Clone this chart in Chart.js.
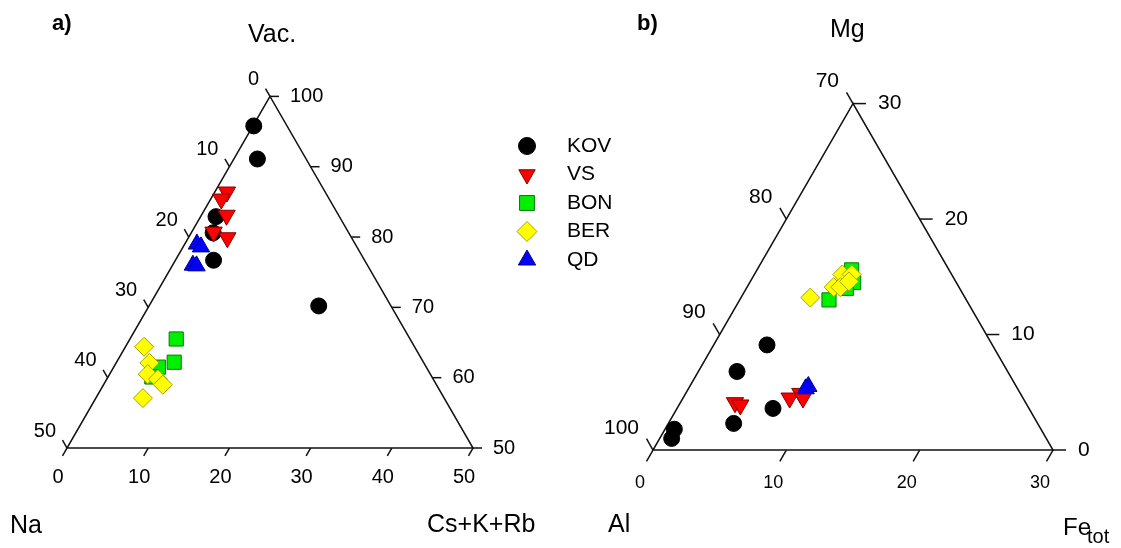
<!DOCTYPE html>
<html>
<head>
<meta charset="utf-8">
<script src="https://cdn.jsdelivr.net/npm/chart.js@4.4.1/dist/chart.umd.min.js"></script>
<style>
  html, body { margin: 0; padding: 0; background: #fff; }
  body { width: 1121px; height: 548px; position: relative; overflow: hidden; }
  canvas { position: absolute; top: 0; }
  #chartA { left: 0; }
  #chartB { left: 595px; }
</style>
</head>
<body>
<canvas id="chartA" width="630" height="548"></canvas>
<canvas id="chartB" width="526" height="548"></canvas>
<script>
// ===============================
// Data
// ===============================
const groups = ['KOV', 'VS', 'BON', 'BER', 'QD'];

// a) each point is [Vac., Cs+K+Rb] in %, Na = 100 - Vac. - (Cs+K+Rb)
const kovA = [[95.8, 0.1], [91.1, 2.9], [82.9, 1.9], [80.6, 2.7], [76.7, 4.7], [70.2, 20.9]];
const vsA  = [[86.4, 1.5], [85.4, 1.3], [83.1, 3.1], [80.7, 2.7], [79.9, 4.8]];
const bonA = [[65.5, 5.7], [62.2, 7.1], [61.5, 5.5], [60.1, 5.4]];
const berA = [[64.4, 2.3], [62.1, 4.1], [60.5, 4.7], [59.8, 6.3], [59.0, 7.3], [57.1, 5.8]];
const qdA  = [[79.0, 1.5], [78.6, 2.2], [76.0, 2.5], [75.9, 3.0]];

// b) each point is [Mg, Fe_tot] in %, Al = 100 - Mg - Fe_tot
const kovB = [[9.1, 4.0], [6.8, 2.9], [3.6, 7.2], [2.3, 4.9], [1.8, 0.7], [1.0, 0.9]];
const vsB  = [[4.1, 4.1], [3.9, 4.6], [4.5, 8.0], [4.9, 8.6], [4.5, 9.0]];
const bonB = [[13.0, 6.7], [15.6, 7.1], [14.5, 7.8], [14.0, 7.5]];
const berB = [[13.2, 5.2], [14.1, 6.5], [15.2, 6.6], [15.2, 7.3], [14.1, 7.0], [14.6, 7.4]];
const qdB  = [[5.5, 8.9], [5.3, 8.8]];

// axis tick labels
const naTicks  = [0, 10, 20, 30, 40, 50];
const vacTicks = [100, 90, 80, 70, 60, 50];
const alkTicks = [0, 10, 20, 30, 40, 50];
const alTicks  = [70, 80, 90, 100];
const mgTicks  = [30, 20, 10, 0];
const feTicks  = [0, 10, 20, 30];

// ===============================
// Styles
// ===============================
const FONT = "'Liberation Sans', Arial, sans-serif";
const S3 = Math.sqrt(3) / 2;

const styleOf = {
  KOV: { pointStyle: 'circle',   rotation: 0,   radius: 8,   legendR: 8.5, bg: '#000000', border: '#000000', order: 5 },
  VS:  { pointStyle: 'triangle', rotation: 180, radius: 10,  legendR: 9.5, bg: '#ff0000', border: '#880000', order: 4 },
  BON: { pointStyle: 'rect',     rotation: 0,   radius: 10,  legendR: 10.5, bg: '#00f000', border: '#007a00', order: 3 },
  BER: { pointStyle: 'rectRot',  rotation: 0,   radius: 9.5, legendR: 10,  bg: '#ffff00', border: '#a3a300', order: 2 },
  QD:  { pointStyle: 'triangle', rotation: 0,   radius: 10,  legendR: 10,  bg: '#0000ff', border: '#000088', order: 1 }
};

// panel layouts: origin = pixel of left corner inside its canvas, unit = px per %
const panelA = {
  id: 'chartA', series: [kovA, vsA, bonA, berA, qdA],
  topMin: 50, rightMin: 0, leftMin: 0, span: 50,
  origin: [67, 448], unit: 406 / 50, tickLen: 9,
  leftTicks: naTicks, rightTicks: vacTicks, bottomTicks: alkTicks,
  sideFont: 20, bottomFont: 20,
  leftOff: [11, 17], rightOff: 20, bottomOff: [9, 29],
  texts: [
    { s: 'a)', x: 52, y: 30, size: 22, bold: true },
    { s: 'Vac.', x: 248, y: 42, size: 25 },
    { s: 'Na', x: 10, y: 533, size: 25 },
    { s: 'Cs+K+Rb', x: 427, y: 532, size: 25 }
  ],
  legend: { x: 527, tx: 567, y: 146, dy: 28.5, size: 21 }
};

const panelB = {
  id: 'chartB', series: [kovB, vsB, bonB, berB, qdB],
  topMin: 0, rightMin: 0, leftMin: 70, span: 30,
  origin: [58, 450], unit: 400 / 30, tickLen: 13,
  leftTicks: alTicks, rightTicks: mgTicks, bottomTicks: feTicks,
  sideFont: 21, bottomFont: 18,
  leftOff: [14, 22], rightOff: 25, bottomOff: [13, 33],
  texts: [
    { s: 'b)', x: 42, y: 30, size: 22, bold: true },
    { s: 'Mg', x: 235, y: 37, size: 25 },
    { s: 'Al', x: 13, y: 532, size: 25 },
    { s: 'Fe', x: 468, y: 535, size: 24 },
    { s: 'tot', x: 492, y: 543, size: 20 }
  ],
  legend: null
};

// ternary -> cartesian (data units), top/right components given, left implied
function toXY(p, top, right) {
  const t = top - p.topMin, r = right - p.rightMin;
  return { x: r + t / 2, y: t * S3 };
}

function text(ctx, s, x, y, size, align, base, bold) {
  ctx.font = (bold ? 'bold ' : '') + size + 'px ' + FONT;
  ctx.textAlign = align || 'left';
  ctx.textBaseline = base || 'alphabetic';
  ctx.fillStyle = '#000';
  ctx.fillText(s, x, y);
}

function line(ctx, x1, y1, x2, y2) {
  ctx.beginPath();
  ctx.moveTo(x1, y1);
  ctx.lineTo(x2, y2);
  ctx.stroke();
}

// frame, ticks, labels, legend
function framePlugin(p) {
  return {
    id: 'frame_' + p.id,
    beforeDatasetsDraw(chart) {
      const ctx = chart.ctx, sx = chart.scales.x, sy = chart.scales.y;
      const at = (top, right) => {
        const d = toXY(p, top, right);
        return [sx.getPixelForValue(d.x), sy.getPixelForValue(d.y)];
      };
      const A = at(p.topMin + p.span, p.rightMin);
      const L = at(p.topMin, p.rightMin);
      const R = at(p.topMin, p.rightMin + p.span);

      ctx.save();
      ctx.strokeStyle = '#111';
      ctx.lineWidth = 1.5;
      ctx.beginPath();
      ctx.moveTo(A[0], A[1]);
      ctx.lineTo(L[0], L[1]);
      ctx.lineTo(R[0], R[1]);
      ctx.closePath();
      ctx.stroke();

      const tk = p.tickLen;
      p.leftTicks.forEach(v => {
        const [x, y] = at(100 - v - p.rightMin, p.rightMin);
        line(ctx, x, y, x - 0.5 * tk, y - S3 * tk);
        text(ctx, String(v), x - p.leftOff[0], y - p.leftOff[1], p.sideFont, 'right', 'middle');
      });
      p.rightTicks.forEach(v => {
        const [x, y] = at(v, 100 - v - p.leftMin);
        line(ctx, x, y, x + tk, y);
        text(ctx, String(v), x + p.rightOff, y, p.sideFont, 'left', 'middle');
      });
      p.bottomTicks.forEach(v => {
        const [x, y] = at(p.topMin, v);
        line(ctx, x, y, x - 0.5 * tk, y + S3 * tk);
        text(ctx, String(v), x - p.bottomOff[0], y + p.bottomOff[1], p.bottomFont, 'center', 'middle');
      });
      ctx.restore();
    },
    afterDraw(chart) {
      const ctx = chart.ctx;
      ctx.save();
      p.texts.forEach(t => text(ctx, t.s, t.x, t.y, t.size, 'left', 'alphabetic', t.bold));

      if (p.legend) {
        const lg = p.legend;
        groups.forEach((g, i) => {
          const st = styleOf[g];
          const y = lg.y + i * lg.dy;
          ctx.fillStyle = st.bg;
          ctx.strokeStyle = st.border;
          ctx.lineWidth = 1;
          Chart.helpers.drawPoint(ctx, {
            pointStyle: st.pointStyle, rotation: st.rotation, radius: st.legendR, borderWidth: 1
          }, lg.x, y);
          text(ctx, g, lg.tx, y, lg.size, 'left', 'middle');
        });
      }
      ctx.restore();
    }
  };
}

function buildChart(p) {
  const canvas = document.getElementById(p.id);
  const W = canvas.width, H = canvas.height;
  return new Chart(canvas, {
    type: 'scatter',
    data: {
      datasets: groups.map((g, i) => {
        const st = styleOf[g];
        return {
          label: g,
          data: p.series[i].map(([top, right]) => toXY(p, top, right)),
          pointStyle: st.pointStyle,
          pointRotation: st.rotation,
          pointRadius: st.radius,
          pointHoverRadius: st.radius,
          pointBackgroundColor: st.bg,
          pointBorderColor: st.border,
          pointBorderWidth: 1,
          order: st.order,
          showLine: false,
          clip: false
        };
      })
    },
    options: {
      responsive: false,
      animation: false,
      devicePixelRatio: 1,
      events: [],
      layout: { padding: 0, autoPadding: false },
      plugins: { legend: { display: false }, tooltip: { enabled: false } },
      scales: {
        x: { type: 'linear', display: false, min: -p.origin[0] / p.unit, max: (W - p.origin[0]) / p.unit },
        y: { type: 'linear', display: false, min: -(H - p.origin[1]) / p.unit, max: p.origin[1] / p.unit }
      }
    },
    plugins: [framePlugin(p)]
  });
}

buildChart(panelA);
buildChart(panelB);
</script>
</body>
</html>
